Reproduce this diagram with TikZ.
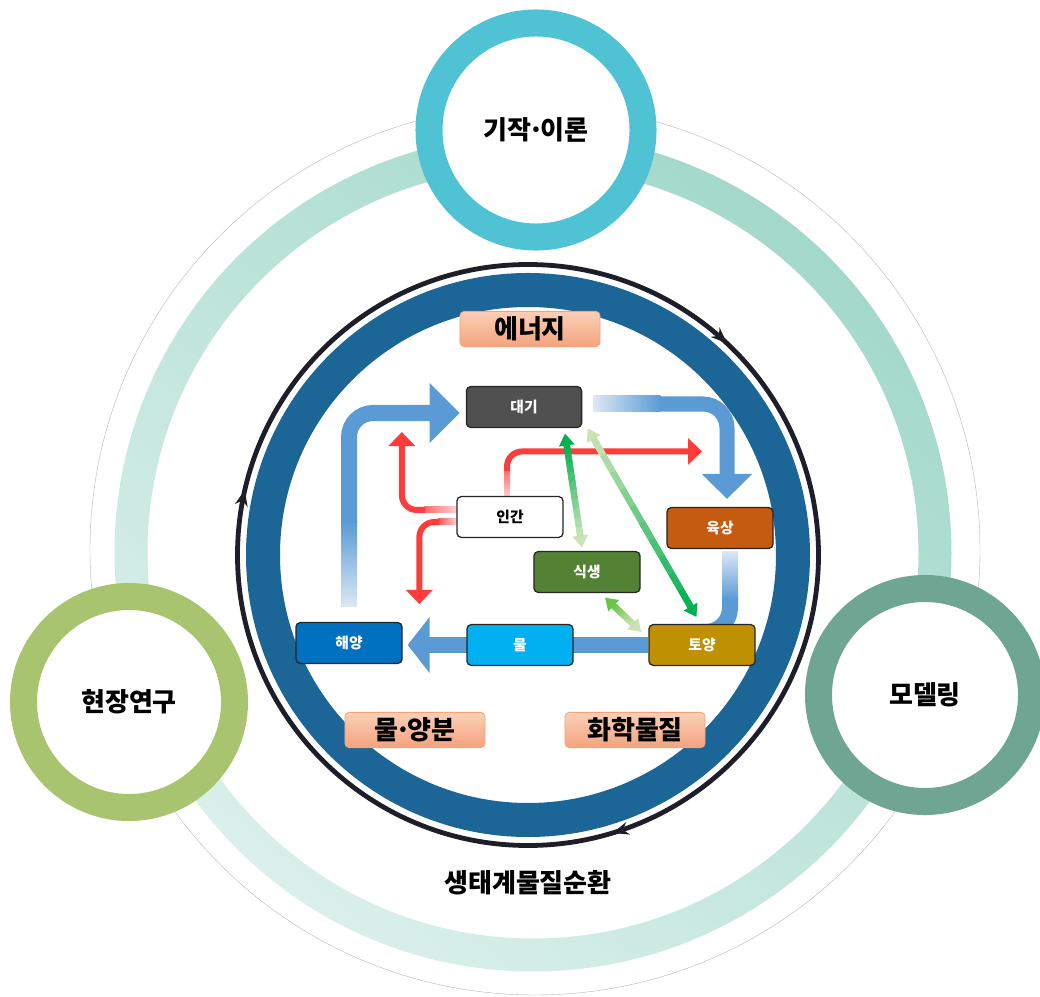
\documentclass[tikz,border=0pt]{standalone}
\usepackage{fontspec}
\setmainfont{Noto Sans CJK KR}
\usetikzlibrary{arrows.meta,calc,decorations.markings,backgrounds}

\definecolor{ringlight}{HTML}{DAF0EA}
\definecolor{ringdark}{HTML}{A3D9CA}
\definecolor{theorycol}{HTML}{4FC3D3}
\definecolor{fieldcol}{HTML}{A8C46E}
\definecolor{modelcol}{HTML}{6FA593}
\definecolor{cyclecol}{HTML}{1C6697}
\definecolor{flowcol}{HTML}{5B9BD5}
\definecolor{flowpale}{HTML}{DCE8F5}
\definecolor{humancol}{HTML}{FF3B3B}
\definecolor{humanpale}{HTML}{FFD0D0}
\definecolor{gdark}{HTML}{00B050}
\definecolor{gmid}{HTML}{6CC24A}
\definecolor{gpale}{HTML}{C9E3B6}
\definecolor{tagtop}{HTML}{FAD0B6}
\definecolor{tagbot}{HTML}{F4A37E}
\definecolor{daegicol}{HTML}{505050}
\definecolor{yuksangcol}{HTML}{C55A11}
\definecolor{siksaengcol}{HTML}{548235}
\definecolor{haeyangcol}{HTML}{0070C0}
\definecolor{mulcol}{HTML}{00B0F0}
\definecolor{toyangcol}{HTML}{BF9000}
\definecolor{ringline}{HTML}{1E1E28}

% narrow middle dot
\newcommand{\mdot}{\kern-0.14em·\kern-0.14em}

% double green arrow from #1 (colour #3) to #2 (colour #4)
\newcommand{\greenlink}[4]{%
  \draw[gline,#3,-{Triangle[width=0.375cm,length=0.3cm]}] ($(#1)!0.5!(#2)$) -- (#1);
  \draw[gline,#4,-{Triangle[width=0.375cm,length=0.3cm]}] ($(#1)!0.5!(#2)$) -- (#2);
  \coordinate (ga) at ($(#1)!0.28cm!(#2)$);
  \coordinate (gb) at ($(#2)!0.28cm!(#1)$);
  \foreach \i in {0,...,9}{
    \pgfmathtruncatemacro{\p}{\i*10+5}
    \draw[gline,#4!\p!#3] ($(ga)!{\i/10}!(gb)$) -- ($(ga)!{(\i+1)/10}!(gb)$);
  }}

\begin{document}
\begin{tikzpicture}[x=0.025cm,y=0.025cm,
  circlab/.style={circle,draw,line width=0.675cm,fill=white,font=\fontsize{18.5}{22}\selectfont\bfseries},
  box/.style={draw=black!85,line width=0.9pt,rounded corners=3pt,minimum width=2.65cm,minimum height=1.02cm,text=white,font=\fontsize{10.5}{12}\selectfont\bfseries},
  tagbox/.style={draw=tagbot,line width=0.6pt,rounded corners=3pt,top color=tagtop,bottom color=tagbot,minimum width=3.5cm,minimum height=0.88cm,font=\fontsize{18.5}{22}\selectfont\bfseries},
  flowarrow/.style={flowcol,line width=0.4cm,rounded corners=0.6cm},
  humanarrow/.style={humancol,line width=0.15cm,rounded corners=0.375cm,-{Triangle[width=0.65cm,length=0.35cm]}},
  gline/.style={line width=0.16cm}]
\useasboundingbox (0,0) rectangle (1040,-997);

% outer ring
\shade[even odd rule,top color=ringdark,bottom color=ringlight,shading angle=-40] (533,-553) circle (418.5) (533,-553) circle (385.5);
\draw[gray!55,line width=0.3pt] (535,-550) circle (445);

% research circles
\node[circlab,draw=theorycol,minimum size=5.35cm] (theory) at (536,-130) {기작\mdot 이론};
\node[circlab,draw=fieldcol,minimum size=5.275cm] (field) at (129,-702) {현장연구};
\node[circlab,draw=modelcol,minimum size=5.325cm] (model) at (925,-695) {모델링};

% cycle ring
\draw[cyclecol,line width=0.85cm] (528,-555) circle (265);
\draw[ringline,line width=0.12cm,decoration={markings,
    mark=at position 0.13 with {\arrowreversed{Stealth[length=0.4cm,width=0.32cm]}},
    mark=at position 0.464 with {\arrowreversed{Stealth[length=0.4cm,width=0.32cm]}},
    mark=at position 0.797 with {\arrowreversed{Stealth[length=0.4cm,width=0.32cm]}}},
  postaction=decorate] (528,-555) circle (290.5);
\node[font=\fontsize{18.5}{22}\selectfont\bfseries] (cycle) at (528,-883) {생태계물질순환};

% tags
\node[tagbox] (energy) at (530,-329) {에너지};
\node[tagbox] (nutrient) at (415,-730) {물\mdot 양분};
\node[tagbox] (chemical) at (635,-730) {화학물질};

% compartments
\node[box,fill=daegicol,minimum width=2.88cm] (daegi) at (524,-407) {대기};
\node[box,fill=white,text=black] (ingan) at (510,-517) {인간};
\node[box,fill=yuksangcol] (yuksang) at (720,-528) {육상};
\node[box,fill=siksaengcol] (siksaeng) at (587,-572) {식생};
\node[box,fill=haeyangcol] (haeyang) at (349,-643) {해양};
\node[box,fill=mulcol] (mul) at (520,-645) {물};
\node[box,fill=toyangcol] (toyang) at (702,-645) {토양};

\begin{scope}[on background layer]
% water
\shade[top color=flowcol,bottom color=flowpale] ($(haeyang.north)+(-8,15)$) rectangle ($(haeyang.north)+(8,100)$);
\draw[flowarrow,-{Triangle[width=1.45cm,length=0.75cm]}] ($(haeyang.north)+(0,99)$) |- ($(daegi.west)+(-6,-6)$);
\shade[left color=flowpale,right color=flowcol] ($(daegi.east)+(11,11)$) rectangle ($(daegi.east)+(78,-5)$);
\draw[flowarrow,line width=0.375cm,-{Triangle[width=1.225cm,length=0.625cm]}] ($(daegi.east)+(77,3)$) -| ($(yuksang.north)+(7,8)$);
\shade[top color=flowpale,bottom color=flowcol] ($(yuksang.south)+(2,-2)$) rectangle ($(yuksang.south)+(18,-50)$);
\draw[flowarrow] ($(yuksang.south)+(10,-49)$) |- ($(toyang.north)+(0,-8)$);
\draw[flowarrow,line width=0.375cm,-{Triangle[width=1.375cm,length=0.55cm]}] (toyang.west) -- ($(haeyang.east)+(5,-2)$);

% human
\shade[left color=humancol!75,right color=humanpale] ($(ingan.west)+(-32,10)$) rectangle ($(ingan.west)+(0,4)$);
\draw[humanarrow] ($(ingan.west)+(-31,7)$) -| ($(ingan.west)+(-54.5,85)$);
\shade[left color=humancol!85,right color=humanpale] ($(ingan.west)+(-18,-2)$) rectangle ($(ingan.west)+(0,-8)$);
\draw[humanarrow] ($(ingan.west)+(-17,-5)$) -| ($(ingan.west)+(-37,-87)$);
\shade[top color=humancol!75,bottom color=humanpale] ($(ingan.north)+(-6,0)$) rectangle ($(ingan.north)+(0,26)$);
\draw[humanarrow] ($(ingan.north)+(-3,25)$) |- ($(ingan.north)+(192,44.5)$);

% plants
\coordinate (da1) at ($(daegi.south)+(41,-5.5)$);
\coordinate (sik1) at ($(siksaeng.north)+(-5,3.5)$);
\coordinate (da2) at ($(daegi.south east)+(5.5,-0.5)$);
\coordinate (to1) at ($(toyang.north)+(-5.5,7)$);
\coordinate (sik2) at ($(siksaeng.south)+(18,-4.5)$);
\coordinate (to2) at ($(toyang.north west)+(-7,-8)$);
\greenlink{da1}{sik1}{gdark}{gpale}
\greenlink{da2}{to1}{gpale}{gdark}
\greenlink{sik2}{to2}{gmid}{gpale}
\end{scope}
\end{tikzpicture}
\end{document}
